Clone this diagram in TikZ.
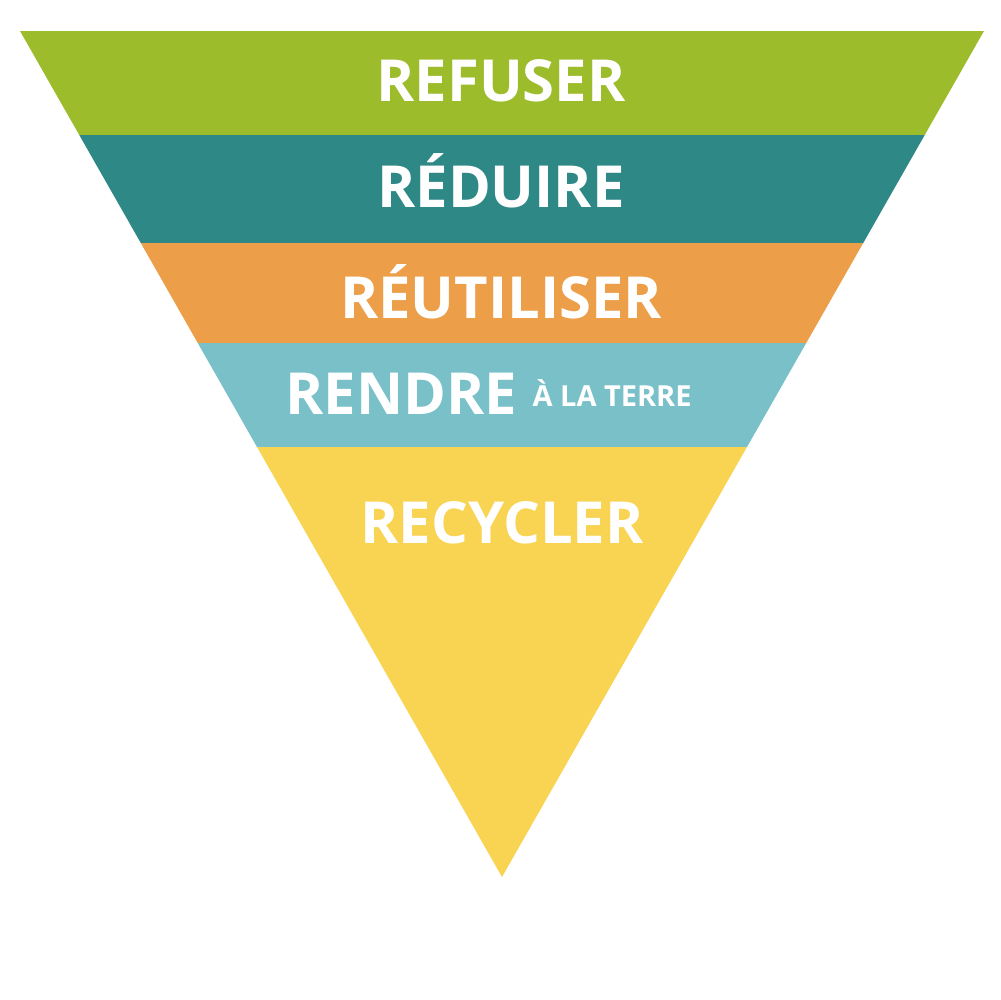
\documentclass[tikz,border=0pt]{standalone}
\usepackage{fontspec}
\setmainfont{Open Sans}
\usepackage{xcolor}
\definecolor{cRefuser}{HTML}{9DBC2C}
\definecolor{cReduire}{HTML}{2E8886}
\definecolor{cReutil}{HTML}{EC9E49}
\definecolor{cRendre}{HTML}{79C0C8}
\definecolor{cRecycl}{HTML}{F8D452}
\tikzset{label/.style={text=white, font=\bfseries\fontsize{33}{36}\selectfont, inner sep=0pt}}
\begin{document}
\begin{tikzpicture}[x=0.02cm,y=-0.02cm]
            \useasboundingbox (0,0) rectangle (1000,1000);
            % Bands
            \begin{scope}
            \clip (20,31) -- (984,31) -- (502,877) -- cycle;
            \fill[cRefuser] (0,31) rectangle (1000,135);
            \fill[cReduire] (0,135) rectangle (1000,243);
            \fill[cReutil] (0,243) rectangle (1000,343);
            \fill[cRendre] (0,343) rectangle (1000,447);
            \fill[cRecycl] (0,447) rectangle (1000,880);
            \end{scope}
            % Labels
            \node[label] (refuser) at (501,81) {REFUSER};
            \node[label] (reduire) at (501,181) {RÉDUIRE};
            \node[label] (reutil) at (501,292) {RÉUTILISER};
            \node[label, anchor=west] (rendre) at (285,394) {RENDRE};
            \node[text=white, font=\bfseries\fontsize{16.5}{18}\selectfont, inner sep=0pt, anchor=base west] (terre) at ([xshift=0.3cm,yshift=0.16cm]rendre.base east) {À LA TERRE};
            \node[label] (recycl) at (502,523) {RECYCLER};
        \end{tikzpicture}
\end{document}
